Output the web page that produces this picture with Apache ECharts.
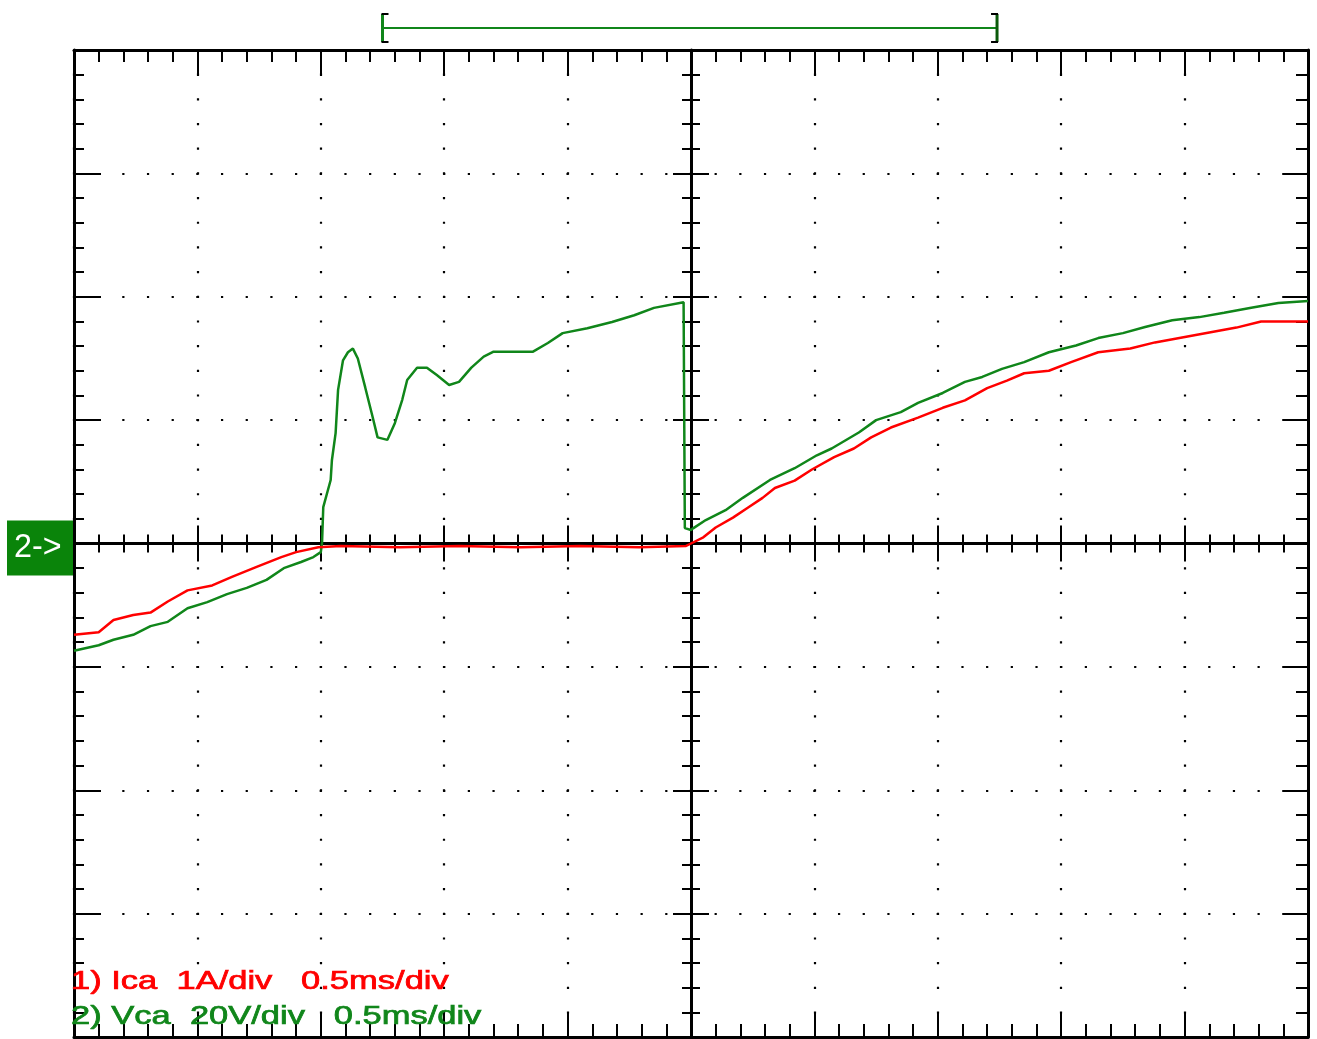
<!DOCTYPE html>
<html><head><meta charset="utf-8">
<script src="https://cdn.jsdelivr.net/npm/echarts@6/dist/echarts.min.js"></script>
<style>html,body{margin:0;padding:0;background:#fff}#c{width:1317px;height:1039px}</style>
</head><body><div id="c"></div>
<script>
// ---- scales (oscilloscope graticule) ----
const timeMin = 0, timeMax = 5, timeDiv = 0.5;      // 0.5 ms/div
const voltMin = -80, voltMax = 80, voltDiv = 20;    // 20 V/div
const ampMin = -4, ampMax = 4, ampDiv = 1;          // 1 A/div

// ---- channel 2: Vca (V) ----
const vcaTime = [0.00,0.10,0.16,0.24,0.31,0.38,0.46,0.54,0.62,0.70,0.78,0.85,0.92,0.97,1.00,1.005,1.01,1.04,1.045,1.06,1.07,1.09,1.11,1.13,1.15,1.18,1.21,1.23,1.27,1.30,1.33,1.35,1.39,1.43,1.47,1.52,1.56,1.61,1.66,1.70,1.86,1.92,1.98,2.08,2.18,2.27,2.35,2.47,2.475,2.50,2.51,2.56,2.64,2.71,2.82,2.92,3.01,3.07,3.18,3.25,3.35,3.42,3.52,3.61,3.68,3.76,3.85,3.95,4.06,4.15,4.25,4.34,4.45,4.56,4.66,4.77,4.88,5.00];
const vcaVolt = [-17.4,-16.5,-15.6,-14.8,-13.4,-12.7,-10.5,-9.5,-8.2,-7.2,-5.9,-4.0,-3.0,-2.2,-1.4,0.1,5.9,10.3,13.5,17.9,24.9,29.7,31.0,31.6,30.0,25.3,20.5,17.2,16.8,19.5,23.3,26.5,28.5,28.5,27.3,25.7,26.2,28.5,30.3,31.1,31.1,32.5,34.1,34.9,35.9,37.0,38.2,39.1,2.5,2.2,2.5,3.8,5.4,7.4,10.3,12.2,14.3,15.4,18.0,20.0,21.3,22.8,24.4,26.2,27.0,28.3,29.4,31.0,32.1,33.3,34.1,35.1,36.2,36.7,37.4,38.2,39.0,39.3];

// ---- channel 1: Ica (A) ----
const icaTime = [0.00,0.10,0.16,0.24,0.31,0.38,0.46,0.56,0.64,0.74,0.84,0.90,0.99,1.08,1.32,1.56,1.81,2.05,2.29,2.48,2.50,2.55,2.60,2.67,2.73,2.79,2.84,2.92,2.99,3.08,3.16,3.23,3.31,3.42,3.52,3.61,3.70,3.78,3.85,3.95,4.04,4.15,4.28,4.38,4.49,4.60,4.71,4.81,5.00];
const icaAmp = [-0.74,-0.72,-0.62,-0.58,-0.56,-0.47,-0.38,-0.34,-0.27,-0.19,-0.11,-0.07,-0.03,-0.02,-0.03,-0.02,-0.03,-0.02,-0.03,-0.02,0.00,0.05,0.13,0.21,0.29,0.37,0.45,0.51,0.60,0.70,0.77,0.86,0.94,1.02,1.10,1.16,1.26,1.32,1.38,1.40,1.47,1.55,1.58,1.63,1.67,1.71,1.75,1.80,1.80];

// ---- texts ----
const legendLines = ['1) Ica  1A/div   0.5ms/div', '2) Vca  20V/div   0.5ms/div'];
const groundLabel = '2->';
const windowStart = 1.25, windowEnd = 3.74;   // acquisition window bracket (ms)

const RED = '#ff0000', GREEN = '#10861a', BLACK = '#000';
const DOT = { color: '#000', width: 2.2, type: [2.2, 22.48], dashOffset: 1.1 };

function xAx(position, offset, inside, major, minor, showLine, split, lw) {
  return {
    type: 'value', min: timeMin, max: timeMax, interval: timeDiv, position, offset,
    axisLine: { show: showLine, onZero: false, lineStyle: { color: BLACK, width: lw || 3 } },
    axisTick: { show: true, inside, length: major, lineStyle: { color: BLACK, width: 2 } },
    minorTick: { show: true, splitNumber: 5, length: minor, lineStyle: { color: BLACK, width: 2 } },
    axisLabel: { show: false },
    splitLine: { show: split, lineStyle: DOT },
    minorSplitLine: { show: false }
  };
}
function yAx(min, max, interval, position, offset, inside, major, minor, showLine, split, lw) {
  return {
    type: 'value', min, max, interval, position, offset,
    axisLine: { show: showLine, onZero: false, lineStyle: { color: BLACK, width: lw || 3 } },
    axisTick: { show: true, inside, length: major, lineStyle: { color: BLACK, width: 2 } },
    minorTick: { show: true, splitNumber: 5, length: minor, lineStyle: { color: BLACK, width: 2 } },
    axisLabel: { show: false },
    splitLine: { show: split, lineStyle: DOT },
    minorSplitLine: { show: false }
  };
}

const chart = echarts.init(document.getElementById('c'), null, { renderer: 'canvas' });
const option = {
  animation: false,
  backgroundColor: '#fff',
  grid: { left: 74, top: 50, width: 1234, height: 987, containLabel: false, outerBoundsMode: 'none' },
  xAxis: [
    xAx('bottom', 0, true, 25, 13, true, true),
    xAx('top', 0, true, 26, 12, true, false),
    xAx('bottom', -493.5, false, 18, 9, true, false, 3),
    xAx('bottom', -493.5, true, 18, 9, false, false)
  ],
  yAxis: [
    yAx(voltMin, voltMax, voltDiv, 'left', 0, true, 27, 10, true, true),
    yAx(ampMin, ampMax, ampDiv, 'right', 0, true, 25, 12, true, false),
    yAx(voltMin, voltMax, voltDiv, 'left', -617, false, 18, 9, true, false, 3),
    yAx(voltMin, voltMax, voltDiv, 'left', -617, true, 18, 9, false, false)
  ],
  series: [
    {
      name: 'Vca', type: 'line', xAxisIndex: 0, yAxisIndex: 0, showSymbol: false,
      lineStyle: { color: GREEN, width: 2.5 }, z: 3,
      data: vcaTime.map((t, i) => [t, vcaVolt[i]])
    },
    {
      name: 'Ica', type: 'line', xAxisIndex: 0, yAxisIndex: 1, showSymbol: false,
      lineStyle: { color: RED, width: 2.5 }, z: 4,
      data: icaTime.map((t, i) => [t, icaAmp[i]])
    }
  ]
};
chart.setOption(option);

const [xs] = chart.convertToPixel({ seriesIndex: 0 }, [windowStart, 0]);
const [xe, yc] = chart.convertToPixel({ seriesIndex: 0 }, [windowEnd, 0]);
const font = '25px "Liberation Sans", Arial, sans-serif';
chart.setOption({
  graphic: [
    // ground marker
    { type: 'rect', shape: { x: 7, y: yc - 23, width: 66, height: 55 }, style: { fill: '#0a840a' }, z: 10 },
    { type: 'text', x: 14, y: yc + 4, scaleX: 0.95, style: { text: groundLabel, fill: '#fff', font: '34px "Liberation Sans", Arial, sans-serif', verticalAlign: 'middle' }, z: 11 },
    // acquisition window bracket
    { type: 'line', shape: { x1: xs, y1: 28, x2: xe, y2: 28 }, style: { stroke: GREEN, lineWidth: 2 }, z: 10 },
    { type: 'line', shape: { x1: xs, y1: 14, x2: xs, y2: 42 }, style: { stroke: GREEN, lineWidth: 3 }, z: 10 },
    { type: 'line', shape: { x1: xs - 1, y1: 14, x2: xs + 6, y2: 14 }, style: { stroke: BLACK, lineWidth: 2 }, z: 11 },
    { type: 'line', shape: { x1: xs - 1, y1: 42, x2: xs + 6, y2: 42 }, style: { stroke: BLACK, lineWidth: 2 }, z: 11 },
    { type: 'line', shape: { x1: xe, y1: 14, x2: xe, y2: 42 }, style: { stroke: '#0b5a0b', lineWidth: 3 }, z: 10 },
    { type: 'line', shape: { x1: xe - 6, y1: 14, x2: xe + 1, y2: 14 }, style: { stroke: BLACK, lineWidth: 2 }, z: 11 },
    { type: 'line', shape: { x1: xe - 6, y1: 42, x2: xe + 1, y2: 42 }, style: { stroke: BLACK, lineWidth: 2 }, z: 11 },
    // channel legends
    { type: 'text', x: 71, y: 982, scaleX: 1.38, style: { text: legendLines[0], fill: RED, stroke: RED, lineWidth: 0.7, font, verticalAlign: 'middle' }, z: 12 },
    { type: 'text', x: 71, y: 1017, scaleX: 1.38, style: { text: legendLines[1], fill: GREEN, stroke: GREEN, lineWidth: 0.7, font, verticalAlign: 'middle' }, z: 12 }
  ]
});
</script></body></html>
